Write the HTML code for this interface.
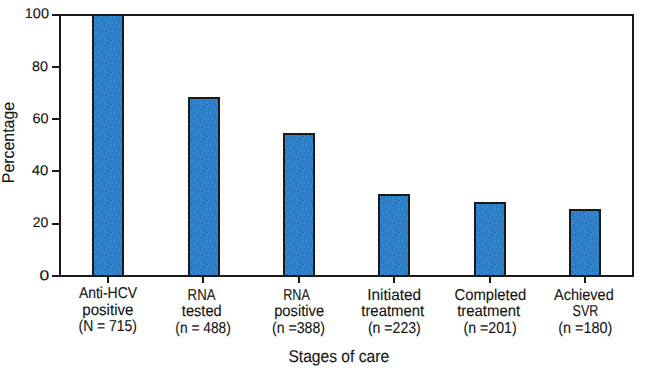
<!DOCTYPE html>
<html><head><meta charset="utf-8"><style>
html,body{margin:0;padding:0;background:#fff;width:645px;height:372px;overflow:hidden}
svg{display:block}
text{font-family:"Liberation Sans",sans-serif;fill:#151515;text-rendering:geometricPrecision;stroke:#151515;stroke-width:0.12px}
.yl{font-size:14px}
.cl{font-size:15.8px}
.ti{font-size:17px}
</style></head><body>
<svg width="645" height="372" viewBox="0 0 645 372">
<rect width="645" height="372" fill="#fff"/>
<defs><pattern id="dith" patternUnits="userSpaceOnUse" x="0" y="0" width="32" height="32" shape-rendering="crispEdges"><rect width="32" height="32" fill="#3282cc"/><rect x="1" y="0" width="1" height="1" fill="#7478c8"/><rect x="3" y="0" width="1" height="1" fill="#3a52aa"/><rect x="5" y="0" width="1" height="1" fill="#6a60c0"/><rect x="7" y="0" width="1" height="1" fill="#5a70a8"/><rect x="9" y="0" width="1" height="1" fill="#3a82a0"/><rect x="11" y="0" width="1" height="1" fill="#7478c8"/><rect x="13" y="0" width="1" height="1" fill="#5a70a8"/><rect x="15" y="0" width="1" height="1" fill="#3a52aa"/><rect x="17" y="0" width="1" height="1" fill="#7478c8"/><rect x="19" y="0" width="1" height="1" fill="#3a52aa"/><rect x="21" y="0" width="1" height="1" fill="#5a70a8"/><rect x="23" y="0" width="1" height="1" fill="#6a60c0"/><rect x="25" y="0" width="1" height="1" fill="#5a70a8"/><rect x="27" y="0" width="1" height="1" fill="#7478c8"/><rect x="29" y="0" width="1" height="1" fill="#3a52aa"/><rect x="31" y="0" width="1" height="1" fill="#7478c8"/><rect x="0" y="1" width="1" height="1" fill="#5a70a8"/><rect x="2" y="1" width="1" height="1" fill="#3a82a0"/><rect x="4" y="1" width="1" height="1" fill="#7478c8"/><rect x="6" y="1" width="1" height="1" fill="#3a82a0"/><rect x="8" y="1" width="1" height="1" fill="#6a60c0"/><rect x="10" y="1" width="1" height="1" fill="#3a52aa"/><rect x="12" y="1" width="1" height="1" fill="#6a60c0"/><rect x="14" y="1" width="1" height="1" fill="#3a82a0"/><rect x="16" y="1" width="1" height="1" fill="#5a70a8"/><rect x="18" y="1" width="1" height="1" fill="#6a60c0"/><rect x="20" y="1" width="1" height="1" fill="#7478c8"/><rect x="22" y="1" width="1" height="1" fill="#3a52aa"/><rect x="24" y="1" width="1" height="1" fill="#7478c8"/><rect x="26" y="1" width="1" height="1" fill="#6a60c0"/><rect x="28" y="1" width="1" height="1" fill="#5a70a8"/><rect x="30" y="1" width="1" height="1" fill="#3a82a0"/><rect x="1" y="2" width="1" height="1" fill="#3a52aa"/><rect x="3" y="2" width="1" height="1" fill="#6a60c0"/><rect x="5" y="2" width="1" height="1" fill="#3a52aa"/><rect x="7" y="2" width="1" height="1" fill="#7478c8"/><rect x="9" y="2" width="1" height="1" fill="#5a70a8"/><rect x="11" y="2" width="1" height="1" fill="#3a82a0"/><rect x="13" y="2" width="1" height="1" fill="#3a52aa"/><rect x="15" y="2" width="1" height="1" fill="#6a60c0"/><rect x="17" y="2" width="1" height="1" fill="#3a52aa"/><rect x="19" y="2" width="1" height="1" fill="#5a70a8"/><rect x="21" y="2" width="1" height="1" fill="#6a60c0"/><rect x="23" y="2" width="1" height="1" fill="#5a70a8"/><rect x="25" y="2" width="1" height="1" fill="#3a52aa"/><rect x="27" y="2" width="1" height="1" fill="#7478c8"/><rect x="29" y="2" width="1" height="1" fill="#3a52aa"/><rect x="31" y="2" width="1" height="1" fill="#6a60c0"/><rect x="0" y="3" width="1" height="1" fill="#3a82a0"/><rect x="2" y="3" width="1" height="1" fill="#5a70a8"/><rect x="4" y="3" width="1" height="1" fill="#3a82a0"/><rect x="6" y="3" width="1" height="1" fill="#5a70a8"/><rect x="8" y="3" width="1" height="1" fill="#6a60c0"/><rect x="10" y="3" width="1" height="1" fill="#7478c8"/><rect x="12" y="3" width="1" height="1" fill="#6a60c0"/><rect x="14" y="3" width="1" height="1" fill="#5a70a8"/><rect x="16" y="3" width="1" height="1" fill="#7478c8"/><rect x="18" y="3" width="1" height="1" fill="#6a60c0"/><rect x="20" y="3" width="1" height="1" fill="#3a82a0"/><rect x="22" y="3" width="1" height="1" fill="#7478c8"/><rect x="24" y="3" width="1" height="1" fill="#6a60c0"/><rect x="26" y="3" width="1" height="1" fill="#5a70a8"/><rect x="28" y="3" width="1" height="1" fill="#3a82a0"/><rect x="30" y="3" width="1" height="1" fill="#5a70a8"/><rect x="1" y="4" width="1" height="1" fill="#7478c8"/><rect x="3" y="4" width="1" height="1" fill="#6a60c0"/><rect x="5" y="4" width="1" height="1" fill="#7478c8"/><rect x="7" y="4" width="1" height="1" fill="#3a82a0"/><rect x="9" y="4" width="1" height="1" fill="#5a70a8"/><rect x="11" y="4" width="1" height="1" fill="#3a52aa"/><rect x="13" y="4" width="1" height="1" fill="#7478c8"/><rect x="15" y="4" width="1" height="1" fill="#3a82a0"/><rect x="17" y="4" width="1" height="1" fill="#3a52aa"/><rect x="19" y="4" width="1" height="1" fill="#7478c8"/><rect x="21" y="4" width="1" height="1" fill="#6a60c0"/><rect x="23" y="4" width="1" height="1" fill="#5a70a8"/><rect x="25" y="4" width="1" height="1" fill="#3a52aa"/><rect x="27" y="4" width="1" height="1" fill="#6a60c0"/><rect x="29" y="4" width="1" height="1" fill="#3a52aa"/><rect x="31" y="4" width="1" height="1" fill="#6a60c0"/><rect x="0" y="5" width="1" height="1" fill="#3a52aa"/><rect x="2" y="5" width="1" height="1" fill="#3a82a0"/><rect x="4" y="5" width="1" height="1" fill="#5a70a8"/><rect x="6" y="5" width="1" height="1" fill="#3a52aa"/><rect x="8" y="5" width="1" height="1" fill="#7478c8"/><rect x="10" y="5" width="1" height="1" fill="#3a82a0"/><rect x="12" y="5" width="1" height="1" fill="#6a60c0"/><rect x="14" y="5" width="1" height="1" fill="#3a52aa"/><rect x="16" y="5" width="1" height="1" fill="#6a60c0"/><rect x="18" y="5" width="1" height="1" fill="#5a70a8"/><rect x="20" y="5" width="1" height="1" fill="#3a52aa"/><rect x="22" y="5" width="1" height="1" fill="#3a82a0"/><rect x="24" y="5" width="1" height="1" fill="#7478c8"/><rect x="26" y="5" width="1" height="1" fill="#5a70a8"/><rect x="28" y="5" width="1" height="1" fill="#7478c8"/><rect x="30" y="5" width="1" height="1" fill="#5a70a8"/><rect x="1" y="6" width="1" height="1" fill="#7478c8"/><rect x="3" y="6" width="1" height="1" fill="#6a60c0"/><rect x="5" y="6" width="1" height="1" fill="#7478c8"/><rect x="7" y="6" width="1" height="1" fill="#6a60c0"/><rect x="9" y="6" width="1" height="1" fill="#5a70a8"/><rect x="11" y="6" width="1" height="1" fill="#7478c8"/><rect x="13" y="6" width="1" height="1" fill="#5a70a8"/><rect x="15" y="6" width="1" height="1" fill="#7478c8"/><rect x="17" y="6" width="1" height="1" fill="#3a82a0"/><rect x="19" y="6" width="1" height="1" fill="#6a60c0"/><rect x="21" y="6" width="1" height="1" fill="#5a70a8"/><rect x="23" y="6" width="1" height="1" fill="#6a60c0"/><rect x="25" y="6" width="1" height="1" fill="#3a52aa"/><rect x="27" y="6" width="1" height="1" fill="#6a60c0"/><rect x="29" y="6" width="1" height="1" fill="#3a82a0"/><rect x="31" y="6" width="1" height="1" fill="#3a52aa"/><rect x="0" y="7" width="1" height="1" fill="#6a60c0"/><rect x="2" y="7" width="1" height="1" fill="#3a82a0"/><rect x="4" y="7" width="1" height="1" fill="#5a70a8"/><rect x="6" y="7" width="1" height="1" fill="#3a82a0"/><rect x="8" y="7" width="1" height="1" fill="#7478c8"/><rect x="10" y="7" width="1" height="1" fill="#6a60c0"/><rect x="12" y="7" width="1" height="1" fill="#3a52aa"/><rect x="14" y="7" width="1" height="1" fill="#6a60c0"/><rect x="16" y="7" width="1" height="1" fill="#5a70a8"/><rect x="18" y="7" width="1" height="1" fill="#3a52aa"/><rect x="20" y="7" width="1" height="1" fill="#7478c8"/><rect x="22" y="7" width="1" height="1" fill="#3a52aa"/><rect x="24" y="7" width="1" height="1" fill="#3a82a0"/><rect x="26" y="7" width="1" height="1" fill="#7478c8"/><rect x="28" y="7" width="1" height="1" fill="#3a52aa"/><rect x="30" y="7" width="1" height="1" fill="#6a60c0"/><rect x="1" y="8" width="1" height="1" fill="#3a52aa"/><rect x="3" y="8" width="1" height="1" fill="#6a60c0"/><rect x="5" y="8" width="1" height="1" fill="#3a52aa"/><rect x="7" y="8" width="1" height="1" fill="#5a70a8"/><rect x="9" y="8" width="1" height="1" fill="#3a82a0"/><rect x="11" y="8" width="1" height="1" fill="#5a70a8"/><rect x="13" y="8" width="1" height="1" fill="#3a82a0"/><rect x="15" y="8" width="1" height="1" fill="#3a52aa"/><rect x="17" y="8" width="1" height="1" fill="#7478c8"/><rect x="19" y="8" width="1" height="1" fill="#5a70a8"/><rect x="21" y="8" width="1" height="1" fill="#6a60c0"/><rect x="23" y="8" width="1" height="1" fill="#5a70a8"/><rect x="25" y="8" width="1" height="1" fill="#6a60c0"/><rect x="27" y="8" width="1" height="1" fill="#3a82a0"/><rect x="29" y="8" width="1" height="1" fill="#7478c8"/><rect x="31" y="8" width="1" height="1" fill="#5a70a8"/><rect x="0" y="9" width="1" height="1" fill="#7478c8"/><rect x="2" y="9" width="1" height="1" fill="#5a70a8"/><rect x="4" y="9" width="1" height="1" fill="#3a82a0"/><rect x="6" y="9" width="1" height="1" fill="#6a60c0"/><rect x="8" y="9" width="1" height="1" fill="#7478c8"/><rect x="10" y="9" width="1" height="1" fill="#6a60c0"/><rect x="12" y="9" width="1" height="1" fill="#7478c8"/><rect x="14" y="9" width="1" height="1" fill="#5a70a8"/><rect x="16" y="9" width="1" height="1" fill="#3a82a0"/><rect x="18" y="9" width="1" height="1" fill="#3a52aa"/><rect x="20" y="9" width="1" height="1" fill="#7478c8"/><rect x="22" y="9" width="1" height="1" fill="#3a52aa"/><rect x="24" y="9" width="1" height="1" fill="#3a82a0"/><rect x="26" y="9" width="1" height="1" fill="#3a52aa"/><rect x="28" y="9" width="1" height="1" fill="#6a60c0"/><rect x="30" y="9" width="1" height="1" fill="#3a82a0"/><rect x="1" y="10" width="1" height="1" fill="#3a52aa"/><rect x="3" y="10" width="1" height="1" fill="#7478c8"/><rect x="5" y="10" width="1" height="1" fill="#5a70a8"/><rect x="7" y="10" width="1" height="1" fill="#3a52aa"/><rect x="9" y="10" width="1" height="1" fill="#3a82a0"/><rect x="11" y="10" width="1" height="1" fill="#3a52aa"/><rect x="13" y="10" width="1" height="1" fill="#3a82a0"/><rect x="15" y="10" width="1" height="1" fill="#6a60c0"/><rect x="17" y="10" width="1" height="1" fill="#7478c8"/><rect x="19" y="10" width="1" height="1" fill="#6a60c0"/><rect x="21" y="10" width="1" height="1" fill="#3a82a0"/><rect x="23" y="10" width="1" height="1" fill="#6a60c0"/><rect x="25" y="10" width="1" height="1" fill="#5a70a8"/><rect x="27" y="10" width="1" height="1" fill="#3a82a0"/><rect x="29" y="10" width="1" height="1" fill="#5a70a8"/><rect x="31" y="10" width="1" height="1" fill="#3a52aa"/><rect x="0" y="11" width="1" height="1" fill="#7478c8"/><rect x="2" y="11" width="1" height="1" fill="#6a60c0"/><rect x="4" y="11" width="1" height="1" fill="#3a52aa"/><rect x="6" y="11" width="1" height="1" fill="#6a60c0"/><rect x="8" y="11" width="1" height="1" fill="#5a70a8"/><rect x="10" y="11" width="1" height="1" fill="#6a60c0"/><rect x="12" y="11" width="1" height="1" fill="#5a70a8"/><rect x="14" y="11" width="1" height="1" fill="#3a52aa"/><rect x="16" y="11" width="1" height="1" fill="#5a70a8"/><rect x="18" y="11" width="1" height="1" fill="#3a52aa"/><rect x="20" y="11" width="1" height="1" fill="#5a70a8"/><rect x="22" y="11" width="1" height="1" fill="#7478c8"/><rect x="24" y="11" width="1" height="1" fill="#3a52aa"/><rect x="26" y="11" width="1" height="1" fill="#7478c8"/><rect x="28" y="11" width="1" height="1" fill="#3a52aa"/><rect x="30" y="11" width="1" height="1" fill="#3a82a0"/><rect x="1" y="12" width="1" height="1" fill="#3a52aa"/><rect x="3" y="12" width="1" height="1" fill="#5a70a8"/><rect x="5" y="12" width="1" height="1" fill="#7478c8"/><rect x="7" y="12" width="1" height="1" fill="#3a82a0"/><rect x="9" y="12" width="1" height="1" fill="#7478c8"/><rect x="11" y="12" width="1" height="1" fill="#3a52aa"/><rect x="13" y="12" width="1" height="1" fill="#6a60c0"/><rect x="15" y="12" width="1" height="1" fill="#7478c8"/><rect x="17" y="12" width="1" height="1" fill="#6a60c0"/><rect x="19" y="12" width="1" height="1" fill="#3a82a0"/><rect x="21" y="12" width="1" height="1" fill="#3a52aa"/><rect x="23" y="12" width="1" height="1" fill="#5a70a8"/><rect x="25" y="12" width="1" height="1" fill="#6a60c0"/><rect x="27" y="12" width="1" height="1" fill="#3a82a0"/><rect x="29" y="12" width="1" height="1" fill="#7478c8"/><rect x="31" y="12" width="1" height="1" fill="#3a52aa"/><rect x="0" y="13" width="1" height="1" fill="#3a82a0"/><rect x="2" y="13" width="1" height="1" fill="#7478c8"/><rect x="4" y="13" width="1" height="1" fill="#3a52aa"/><rect x="6" y="13" width="1" height="1" fill="#6a60c0"/><rect x="8" y="13" width="1" height="1" fill="#3a52aa"/><rect x="10" y="13" width="1" height="1" fill="#6a60c0"/><rect x="12" y="13" width="1" height="1" fill="#5a70a8"/><rect x="14" y="13" width="1" height="1" fill="#3a82a0"/><rect x="16" y="13" width="1" height="1" fill="#3a52aa"/><rect x="18" y="13" width="1" height="1" fill="#5a70a8"/><rect x="20" y="13" width="1" height="1" fill="#7478c8"/><rect x="22" y="13" width="1" height="1" fill="#3a82a0"/><rect x="24" y="13" width="1" height="1" fill="#3a52aa"/><rect x="26" y="13" width="1" height="1" fill="#7478c8"/><rect x="28" y="13" width="1" height="1" fill="#5a70a8"/><rect x="30" y="13" width="1" height="1" fill="#3a82a0"/><rect x="1" y="14" width="1" height="1" fill="#6a60c0"/><rect x="3" y="14" width="1" height="1" fill="#3a82a0"/><rect x="5" y="14" width="1" height="1" fill="#5a70a8"/><rect x="7" y="14" width="1" height="1" fill="#7478c8"/><rect x="9" y="14" width="1" height="1" fill="#3a82a0"/><rect x="11" y="14" width="1" height="1" fill="#3a52aa"/><rect x="13" y="14" width="1" height="1" fill="#7478c8"/><rect x="15" y="14" width="1" height="1" fill="#6a60c0"/><rect x="17" y="14" width="1" height="1" fill="#3a82a0"/><rect x="19" y="14" width="1" height="1" fill="#3a52aa"/><rect x="21" y="14" width="1" height="1" fill="#6a60c0"/><rect x="23" y="14" width="1" height="1" fill="#7478c8"/><rect x="25" y="14" width="1" height="1" fill="#6a60c0"/><rect x="27" y="14" width="1" height="1" fill="#3a82a0"/><rect x="29" y="14" width="1" height="1" fill="#7478c8"/><rect x="31" y="14" width="1" height="1" fill="#6a60c0"/><rect x="0" y="15" width="1" height="1" fill="#5a70a8"/><rect x="2" y="15" width="1" height="1" fill="#7478c8"/><rect x="4" y="15" width="1" height="1" fill="#6a60c0"/><rect x="6" y="15" width="1" height="1" fill="#3a82a0"/><rect x="8" y="15" width="1" height="1" fill="#6a60c0"/><rect x="10" y="15" width="1" height="1" fill="#5a70a8"/><rect x="12" y="15" width="1" height="1" fill="#3a82a0"/><rect x="14" y="15" width="1" height="1" fill="#5a70a8"/><rect x="16" y="15" width="1" height="1" fill="#3a52aa"/><rect x="18" y="15" width="1" height="1" fill="#7478c8"/><rect x="20" y="15" width="1" height="1" fill="#3a82a0"/><rect x="22" y="15" width="1" height="1" fill="#3a52aa"/><rect x="24" y="15" width="1" height="1" fill="#3a82a0"/><rect x="26" y="15" width="1" height="1" fill="#7478c8"/><rect x="28" y="15" width="1" height="1" fill="#3a52aa"/><rect x="30" y="15" width="1" height="1" fill="#3a82a0"/><rect x="1" y="16" width="1" height="1" fill="#3a52aa"/><rect x="3" y="16" width="1" height="1" fill="#3a82a0"/><rect x="5" y="16" width="1" height="1" fill="#5a70a8"/><rect x="7" y="16" width="1" height="1" fill="#7478c8"/><rect x="9" y="16" width="1" height="1" fill="#3a52aa"/><rect x="11" y="16" width="1" height="1" fill="#6a60c0"/><rect x="13" y="16" width="1" height="1" fill="#7478c8"/><rect x="15" y="16" width="1" height="1" fill="#6a60c0"/><rect x="17" y="16" width="1" height="1" fill="#3a82a0"/><rect x="19" y="16" width="1" height="1" fill="#6a60c0"/><rect x="21" y="16" width="1" height="1" fill="#5a70a8"/><rect x="23" y="16" width="1" height="1" fill="#6a60c0"/><rect x="25" y="16" width="1" height="1" fill="#5a70a8"/><rect x="27" y="16" width="1" height="1" fill="#6a60c0"/><rect x="29" y="16" width="1" height="1" fill="#5a70a8"/><rect x="31" y="16" width="1" height="1" fill="#7478c8"/><rect x="0" y="17" width="1" height="1" fill="#6a60c0"/><rect x="2" y="17" width="1" height="1" fill="#5a70a8"/><rect x="4" y="17" width="1" height="1" fill="#7478c8"/><rect x="6" y="17" width="1" height="1" fill="#3a82a0"/><rect x="8" y="17" width="1" height="1" fill="#6a60c0"/><rect x="10" y="17" width="1" height="1" fill="#5a70a8"/><rect x="12" y="17" width="1" height="1" fill="#3a52aa"/><rect x="14" y="17" width="1" height="1" fill="#3a82a0"/><rect x="16" y="17" width="1" height="1" fill="#5a70a8"/><rect x="18" y="17" width="1" height="1" fill="#7478c8"/><rect x="20" y="17" width="1" height="1" fill="#3a82a0"/><rect x="22" y="17" width="1" height="1" fill="#3a52aa"/><rect x="24" y="17" width="1" height="1" fill="#7478c8"/><rect x="26" y="17" width="1" height="1" fill="#3a52aa"/><rect x="28" y="17" width="1" height="1" fill="#3a82a0"/><rect x="30" y="17" width="1" height="1" fill="#6a60c0"/><rect x="1" y="18" width="1" height="1" fill="#3a82a0"/><rect x="3" y="18" width="1" height="1" fill="#6a60c0"/><rect x="5" y="18" width="1" height="1" fill="#5a70a8"/><rect x="7" y="18" width="1" height="1" fill="#3a52aa"/><rect x="9" y="18" width="1" height="1" fill="#7478c8"/><rect x="11" y="18" width="1" height="1" fill="#6a60c0"/><rect x="13" y="18" width="1" height="1" fill="#5a70a8"/><rect x="15" y="18" width="1" height="1" fill="#7478c8"/><rect x="17" y="18" width="1" height="1" fill="#3a82a0"/><rect x="19" y="18" width="1" height="1" fill="#3a52aa"/><rect x="21" y="18" width="1" height="1" fill="#5a70a8"/><rect x="23" y="18" width="1" height="1" fill="#6a60c0"/><rect x="25" y="18" width="1" height="1" fill="#3a82a0"/><rect x="27" y="18" width="1" height="1" fill="#6a60c0"/><rect x="29" y="18" width="1" height="1" fill="#7478c8"/><rect x="31" y="18" width="1" height="1" fill="#3a52aa"/><rect x="0" y="19" width="1" height="1" fill="#3a52aa"/><rect x="2" y="19" width="1" height="1" fill="#7478c8"/><rect x="4" y="19" width="1" height="1" fill="#3a52aa"/><rect x="6" y="19" width="1" height="1" fill="#7478c8"/><rect x="8" y="19" width="1" height="1" fill="#5a70a8"/><rect x="10" y="19" width="1" height="1" fill="#3a52aa"/><rect x="12" y="19" width="1" height="1" fill="#3a82a0"/><rect x="14" y="19" width="1" height="1" fill="#6a60c0"/><rect x="16" y="19" width="1" height="1" fill="#3a52aa"/><rect x="18" y="19" width="1" height="1" fill="#5a70a8"/><rect x="20" y="19" width="1" height="1" fill="#6a60c0"/><rect x="22" y="19" width="1" height="1" fill="#3a52aa"/><rect x="24" y="19" width="1" height="1" fill="#5a70a8"/><rect x="26" y="19" width="1" height="1" fill="#7478c8"/><rect x="28" y="19" width="1" height="1" fill="#5a70a8"/><rect x="30" y="19" width="1" height="1" fill="#6a60c0"/><rect x="1" y="20" width="1" height="1" fill="#5a70a8"/><rect x="3" y="20" width="1" height="1" fill="#3a82a0"/><rect x="5" y="20" width="1" height="1" fill="#6a60c0"/><rect x="7" y="20" width="1" height="1" fill="#3a52aa"/><rect x="9" y="20" width="1" height="1" fill="#3a82a0"/><rect x="11" y="20" width="1" height="1" fill="#7478c8"/><rect x="13" y="20" width="1" height="1" fill="#5a70a8"/><rect x="15" y="20" width="1" height="1" fill="#3a82a0"/><rect x="17" y="20" width="1" height="1" fill="#7478c8"/><rect x="19" y="20" width="1" height="1" fill="#3a82a0"/><rect x="21" y="20" width="1" height="1" fill="#5a70a8"/><rect x="23" y="20" width="1" height="1" fill="#3a82a0"/><rect x="25" y="20" width="1" height="1" fill="#3a52aa"/><rect x="27" y="20" width="1" height="1" fill="#6a60c0"/><rect x="29" y="20" width="1" height="1" fill="#3a82a0"/><rect x="31" y="20" width="1" height="1" fill="#7478c8"/><rect x="0" y="21" width="1" height="1" fill="#3a82a0"/><rect x="2" y="21" width="1" height="1" fill="#6a60c0"/><rect x="4" y="21" width="1" height="1" fill="#3a52aa"/><rect x="6" y="21" width="1" height="1" fill="#5a70a8"/><rect x="8" y="21" width="1" height="1" fill="#6a60c0"/><rect x="10" y="21" width="1" height="1" fill="#5a70a8"/><rect x="12" y="21" width="1" height="1" fill="#3a82a0"/><rect x="14" y="21" width="1" height="1" fill="#7478c8"/><rect x="16" y="21" width="1" height="1" fill="#5a70a8"/><rect x="18" y="21" width="1" height="1" fill="#3a52aa"/><rect x="20" y="21" width="1" height="1" fill="#7478c8"/><rect x="22" y="21" width="1" height="1" fill="#3a52aa"/><rect x="24" y="21" width="1" height="1" fill="#5a70a8"/><rect x="26" y="21" width="1" height="1" fill="#3a82a0"/><rect x="28" y="21" width="1" height="1" fill="#5a70a8"/><rect x="30" y="21" width="1" height="1" fill="#6a60c0"/><rect x="1" y="22" width="1" height="1" fill="#5a70a8"/><rect x="3" y="22" width="1" height="1" fill="#3a82a0"/><rect x="5" y="22" width="1" height="1" fill="#7478c8"/><rect x="7" y="22" width="1" height="1" fill="#3a82a0"/><rect x="9" y="22" width="1" height="1" fill="#7478c8"/><rect x="11" y="22" width="1" height="1" fill="#3a52aa"/><rect x="13" y="22" width="1" height="1" fill="#5a70a8"/><rect x="15" y="22" width="1" height="1" fill="#6a60c0"/><rect x="17" y="22" width="1" height="1" fill="#7478c8"/><rect x="19" y="22" width="1" height="1" fill="#6a60c0"/><rect x="21" y="22" width="1" height="1" fill="#5a70a8"/><rect x="23" y="22" width="1" height="1" fill="#6a60c0"/><rect x="25" y="22" width="1" height="1" fill="#3a52aa"/><rect x="27" y="22" width="1" height="1" fill="#6a60c0"/><rect x="29" y="22" width="1" height="1" fill="#3a52aa"/><rect x="31" y="22" width="1" height="1" fill="#7478c8"/><rect x="0" y="23" width="1" height="1" fill="#3a82a0"/><rect x="2" y="23" width="1" height="1" fill="#3a52aa"/><rect x="4" y="23" width="1" height="1" fill="#6a60c0"/><rect x="6" y="23" width="1" height="1" fill="#5a70a8"/><rect x="8" y="23" width="1" height="1" fill="#3a52aa"/><rect x="10" y="23" width="1" height="1" fill="#6a60c0"/><rect x="12" y="23" width="1" height="1" fill="#7478c8"/><rect x="14" y="23" width="1" height="1" fill="#3a82a0"/><rect x="16" y="23" width="1" height="1" fill="#5a70a8"/><rect x="18" y="23" width="1" height="1" fill="#3a82a0"/><rect x="20" y="23" width="1" height="1" fill="#7478c8"/><rect x="22" y="23" width="1" height="1" fill="#3a82a0"/><rect x="24" y="23" width="1" height="1" fill="#5a70a8"/><rect x="26" y="23" width="1" height="1" fill="#7478c8"/><rect x="28" y="23" width="1" height="1" fill="#5a70a8"/><rect x="30" y="23" width="1" height="1" fill="#3a82a0"/><rect x="1" y="24" width="1" height="1" fill="#7478c8"/><rect x="3" y="24" width="1" height="1" fill="#5a70a8"/><rect x="5" y="24" width="1" height="1" fill="#3a82a0"/><rect x="7" y="24" width="1" height="1" fill="#7478c8"/><rect x="9" y="24" width="1" height="1" fill="#5a70a8"/><rect x="11" y="24" width="1" height="1" fill="#3a82a0"/><rect x="13" y="24" width="1" height="1" fill="#5a70a8"/><rect x="15" y="24" width="1" height="1" fill="#6a60c0"/><rect x="17" y="24" width="1" height="1" fill="#3a52aa"/><rect x="19" y="24" width="1" height="1" fill="#5a70a8"/><rect x="21" y="24" width="1" height="1" fill="#6a60c0"/><rect x="23" y="24" width="1" height="1" fill="#7478c8"/><rect x="25" y="24" width="1" height="1" fill="#3a52aa"/><rect x="27" y="24" width="1" height="1" fill="#3a82a0"/><rect x="29" y="24" width="1" height="1" fill="#3a52aa"/><rect x="31" y="24" width="1" height="1" fill="#6a60c0"/><rect x="0" y="25" width="1" height="1" fill="#5a70a8"/><rect x="2" y="25" width="1" height="1" fill="#3a82a0"/><rect x="4" y="25" width="1" height="1" fill="#7478c8"/><rect x="6" y="25" width="1" height="1" fill="#5a70a8"/><rect x="8" y="25" width="1" height="1" fill="#3a52aa"/><rect x="10" y="25" width="1" height="1" fill="#7478c8"/><rect x="12" y="25" width="1" height="1" fill="#6a60c0"/><rect x="14" y="25" width="1" height="1" fill="#7478c8"/><rect x="16" y="25" width="1" height="1" fill="#3a82a0"/><rect x="18" y="25" width="1" height="1" fill="#6a60c0"/><rect x="20" y="25" width="1" height="1" fill="#3a52aa"/><rect x="22" y="25" width="1" height="1" fill="#5a70a8"/><rect x="24" y="25" width="1" height="1" fill="#3a82a0"/><rect x="26" y="25" width="1" height="1" fill="#6a60c0"/><rect x="28" y="25" width="1" height="1" fill="#7478c8"/><rect x="30" y="25" width="1" height="1" fill="#5a70a8"/><rect x="1" y="26" width="1" height="1" fill="#6a60c0"/><rect x="3" y="26" width="1" height="1" fill="#3a52aa"/><rect x="5" y="26" width="1" height="1" fill="#6a60c0"/><rect x="7" y="26" width="1" height="1" fill="#3a82a0"/><rect x="9" y="26" width="1" height="1" fill="#5a70a8"/><rect x="11" y="26" width="1" height="1" fill="#3a82a0"/><rect x="13" y="26" width="1" height="1" fill="#3a52aa"/><rect x="15" y="26" width="1" height="1" fill="#6a60c0"/><rect x="17" y="26" width="1" height="1" fill="#7478c8"/><rect x="19" y="26" width="1" height="1" fill="#5a70a8"/><rect x="21" y="26" width="1" height="1" fill="#3a82a0"/><rect x="23" y="26" width="1" height="1" fill="#7478c8"/><rect x="25" y="26" width="1" height="1" fill="#5a70a8"/><rect x="27" y="26" width="1" height="1" fill="#3a82a0"/><rect x="29" y="26" width="1" height="1" fill="#3a52aa"/><rect x="31" y="26" width="1" height="1" fill="#6a60c0"/><rect x="0" y="27" width="1" height="1" fill="#3a82a0"/><rect x="2" y="27" width="1" height="1" fill="#5a70a8"/><rect x="4" y="27" width="1" height="1" fill="#3a82a0"/><rect x="6" y="27" width="1" height="1" fill="#7478c8"/><rect x="8" y="27" width="1" height="1" fill="#6a60c0"/><rect x="10" y="27" width="1" height="1" fill="#7478c8"/><rect x="12" y="27" width="1" height="1" fill="#5a70a8"/><rect x="14" y="27" width="1" height="1" fill="#3a82a0"/><rect x="16" y="27" width="1" height="1" fill="#3a52aa"/><rect x="18" y="27" width="1" height="1" fill="#3a82a0"/><rect x="20" y="27" width="1" height="1" fill="#7478c8"/><rect x="22" y="27" width="1" height="1" fill="#6a60c0"/><rect x="24" y="27" width="1" height="1" fill="#3a52aa"/><rect x="26" y="27" width="1" height="1" fill="#7478c8"/><rect x="28" y="27" width="1" height="1" fill="#5a70a8"/><rect x="30" y="27" width="1" height="1" fill="#7478c8"/><rect x="1" y="28" width="1" height="1" fill="#6a60c0"/><rect x="3" y="28" width="1" height="1" fill="#3a52aa"/><rect x="5" y="28" width="1" height="1" fill="#6a60c0"/><rect x="7" y="28" width="1" height="1" fill="#3a82a0"/><rect x="9" y="28" width="1" height="1" fill="#5a70a8"/><rect x="11" y="28" width="1" height="1" fill="#3a52aa"/><rect x="13" y="28" width="1" height="1" fill="#6a60c0"/><rect x="15" y="28" width="1" height="1" fill="#5a70a8"/><rect x="17" y="28" width="1" height="1" fill="#6a60c0"/><rect x="19" y="28" width="1" height="1" fill="#3a52aa"/><rect x="21" y="28" width="1" height="1" fill="#3a82a0"/><rect x="23" y="28" width="1" height="1" fill="#5a70a8"/><rect x="25" y="28" width="1" height="1" fill="#6a60c0"/><rect x="27" y="28" width="1" height="1" fill="#3a82a0"/><rect x="29" y="28" width="1" height="1" fill="#6a60c0"/><rect x="31" y="28" width="1" height="1" fill="#3a82a0"/><rect x="0" y="29" width="1" height="1" fill="#3a52aa"/><rect x="2" y="29" width="1" height="1" fill="#3a82a0"/><rect x="4" y="29" width="1" height="1" fill="#5a70a8"/><rect x="6" y="29" width="1" height="1" fill="#7478c8"/><rect x="8" y="29" width="1" height="1" fill="#6a60c0"/><rect x="10" y="29" width="1" height="1" fill="#7478c8"/><rect x="12" y="29" width="1" height="1" fill="#3a82a0"/><rect x="14" y="29" width="1" height="1" fill="#3a52aa"/><rect x="16" y="29" width="1" height="1" fill="#7478c8"/><rect x="18" y="29" width="1" height="1" fill="#5a70a8"/><rect x="20" y="29" width="1" height="1" fill="#6a60c0"/><rect x="22" y="29" width="1" height="1" fill="#3a52aa"/><rect x="24" y="29" width="1" height="1" fill="#3a82a0"/><rect x="26" y="29" width="1" height="1" fill="#3a52aa"/><rect x="28" y="29" width="1" height="1" fill="#7478c8"/><rect x="30" y="29" width="1" height="1" fill="#5a70a8"/><rect x="1" y="30" width="1" height="1" fill="#5a70a8"/><rect x="3" y="30" width="1" height="1" fill="#3a52aa"/><rect x="5" y="30" width="1" height="1" fill="#3a82a0"/><rect x="7" y="30" width="1" height="1" fill="#5a70a8"/><rect x="9" y="30" width="1" height="1" fill="#3a82a0"/><rect x="11" y="30" width="1" height="1" fill="#5a70a8"/><rect x="13" y="30" width="1" height="1" fill="#7478c8"/><rect x="15" y="30" width="1" height="1" fill="#3a82a0"/><rect x="17" y="30" width="1" height="1" fill="#6a60c0"/><rect x="19" y="30" width="1" height="1" fill="#3a52aa"/><rect x="21" y="30" width="1" height="1" fill="#7478c8"/><rect x="23" y="30" width="1" height="1" fill="#6a60c0"/><rect x="25" y="30" width="1" height="1" fill="#7478c8"/><rect x="27" y="30" width="1" height="1" fill="#5a70a8"/><rect x="29" y="30" width="1" height="1" fill="#3a82a0"/><rect x="31" y="30" width="1" height="1" fill="#3a52aa"/><rect x="0" y="31" width="1" height="1" fill="#6a60c0"/><rect x="2" y="31" width="1" height="1" fill="#7478c8"/><rect x="4" y="31" width="1" height="1" fill="#6a60c0"/><rect x="6" y="31" width="1" height="1" fill="#3a52aa"/><rect x="8" y="31" width="1" height="1" fill="#6a60c0"/><rect x="10" y="31" width="1" height="1" fill="#3a52aa"/><rect x="12" y="31" width="1" height="1" fill="#3a82a0"/><rect x="14" y="31" width="1" height="1" fill="#5a70a8"/><rect x="16" y="31" width="1" height="1" fill="#7478c8"/><rect x="18" y="31" width="1" height="1" fill="#3a82a0"/><rect x="20" y="31" width="1" height="1" fill="#6a60c0"/><rect x="22" y="31" width="1" height="1" fill="#5a70a8"/><rect x="24" y="31" width="1" height="1" fill="#3a52aa"/><rect x="26" y="31" width="1" height="1" fill="#6a60c0"/><rect x="28" y="31" width="1" height="1" fill="#7478c8"/><rect x="30" y="31" width="1" height="1" fill="#5a70a8"/></pattern></defs>
<rect x="93" y="15" width="30" height="261" fill="url(#dith)" stroke="#1a1a1a" stroke-width="2"/>
<rect x="189" y="98" width="30" height="178" fill="url(#dith)" stroke="#1a1a1a" stroke-width="2"/>
<rect x="284" y="134" width="30" height="142" fill="url(#dith)" stroke="#1a1a1a" stroke-width="2"/>
<rect x="379" y="195" width="30" height="81" fill="url(#dith)" stroke="#1a1a1a" stroke-width="2"/>
<rect x="475" y="203" width="30" height="73" fill="url(#dith)" stroke="#1a1a1a" stroke-width="2"/>
<rect x="570" y="210" width="30" height="66" fill="url(#dith)" stroke="#1a1a1a" stroke-width="2"/>
<rect x="60" y="15" width="573" height="261" fill="none" stroke="#1a1a1a" stroke-width="2"/>
<rect x="52" y="14" width="8" height="2" fill="#1a1a1a"/>
<rect x="52" y="66" width="8" height="2" fill="#1a1a1a"/>
<rect x="52" y="118" width="8" height="2" fill="#1a1a1a"/>
<rect x="52" y="170" width="8" height="2" fill="#1a1a1a"/>
<rect x="52" y="223" width="8" height="2" fill="#1a1a1a"/>
<rect x="52" y="275" width="8" height="2" fill="#1a1a1a"/>
<rect x="107" y="277" width="2" height="6" fill="#1a1a1a"/>
<rect x="202" y="277" width="2" height="6" fill="#1a1a1a"/>
<rect x="298" y="277" width="2" height="6" fill="#1a1a1a"/>
<rect x="393" y="277" width="2" height="6" fill="#1a1a1a"/>
<rect x="489" y="277" width="2" height="6" fill="#1a1a1a"/>
<rect x="584" y="277" width="2" height="6" fill="#1a1a1a"/>
<text id="c00" x="108.00" y="297.80" text-anchor="middle" class="cl" textLength="58.17" lengthAdjust="spacingAndGlyphs">Anti-HCV</text>
<text id="c01" x="107.85" y="314.50" text-anchor="middle" class="cl" textLength="51.26" lengthAdjust="spacingAndGlyphs">positive</text>
<text id="c02" x="107.75" y="330.70" text-anchor="middle" class="cl" textLength="58.47" lengthAdjust="spacingAndGlyphs">(N = 715)</text>
<text id="c10" x="201.55" y="299.80" text-anchor="middle" class="cl" textLength="27.86" lengthAdjust="spacingAndGlyphs">RNA</text>
<text id="c11" x="201.75" y="315.50" text-anchor="middle" class="cl" textLength="39.87" lengthAdjust="spacingAndGlyphs">tested</text>
<text id="c12" x="203.10" y="332.80" text-anchor="middle" class="cl" textLength="55.46" lengthAdjust="spacingAndGlyphs">(n = 488)</text>
<text id="c20" x="296.50" y="299.80" text-anchor="middle" class="cl" textLength="26.58" lengthAdjust="spacingAndGlyphs">RNA</text>
<text id="c21" x="299.15" y="315.50" text-anchor="middle" class="cl" textLength="49.97" lengthAdjust="spacingAndGlyphs">positive</text>
<text id="c22" x="298.55" y="332.80" text-anchor="middle" class="cl" textLength="52.89" lengthAdjust="spacingAndGlyphs">(n =388)</text>
<text id="c30" x="394.15" y="299.80" text-anchor="middle" class="cl" textLength="53.82" lengthAdjust="spacingAndGlyphs">Initiated</text>
<text id="c31" x="392.75" y="315.50" text-anchor="middle" class="cl" textLength="62.98" lengthAdjust="spacingAndGlyphs">treatment</text>
<text id="c32" x="394.35" y="332.80" text-anchor="middle" class="cl" textLength="52.89" lengthAdjust="spacingAndGlyphs">(n =223)</text>
<text id="c40" x="490.30" y="299.80" text-anchor="middle" class="cl" textLength="71.72" lengthAdjust="spacingAndGlyphs">Completed</text>
<text id="c41" x="488.65" y="315.50" text-anchor="middle" class="cl" textLength="62.97" lengthAdjust="spacingAndGlyphs">treatment</text>
<text id="c42" x="490.10" y="332.80" text-anchor="middle" class="cl" textLength="53.26" lengthAdjust="spacingAndGlyphs">(n =201)</text>
<text id="c50" x="583.90" y="299.80" text-anchor="middle" class="cl" textLength="59.72" lengthAdjust="spacingAndGlyphs">Achieved</text>
<text id="c51" x="585.40" y="315.50" text-anchor="middle" class="cl" textLength="25.66" lengthAdjust="spacingAndGlyphs">SVR</text>
<text id="c52" x="585.30" y="332.80" text-anchor="middle" class="cl" textLength="54.15" lengthAdjust="spacingAndGlyphs">(n =180)</text>
<text id="y100" x="36.89" y="18.00" text-anchor="middle" class="yl" textLength="24.11" lengthAdjust="spacingAndGlyphs">100</text>
<text id="y80" x="40.07" y="70.90" text-anchor="middle" class="yl" textLength="15.94" lengthAdjust="spacingAndGlyphs">80</text>
<text id="y60" x="40.49" y="123.00" text-anchor="middle" class="yl" textLength="16.04" lengthAdjust="spacingAndGlyphs">60</text>
<text id="y40" x="40.07" y="174.90" text-anchor="middle" class="yl" textLength="16.61" lengthAdjust="spacingAndGlyphs">40</text>
<text id="y20" x="40.50" y="226.90" text-anchor="middle" class="yl" textLength="15.58" lengthAdjust="spacingAndGlyphs">20</text>
<text id="y0" x="44.25" y="279.80" text-anchor="middle" class="yl" textLength="9.71" lengthAdjust="spacingAndGlyphs">0</text>
<text id="stages" x="338.75" y="361.90" text-anchor="middle" class="ti" textLength="100.72" lengthAdjust="spacingAndGlyphs">Stages of care</text>
<text id="perc" transform="translate(14.20,142.55) rotate(-90)" text-anchor="middle" class="ti" textLength="81.25" lengthAdjust="spacingAndGlyphs">Percentage</text>
</svg>
</body></html>
